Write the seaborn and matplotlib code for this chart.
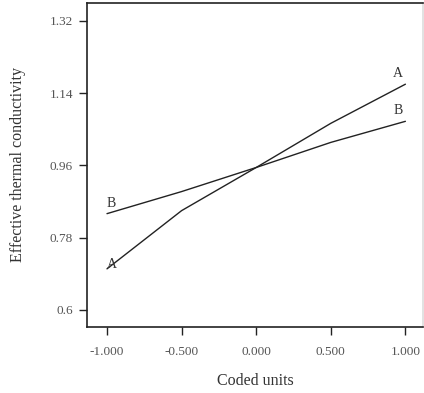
import numpy as np
import pandas as pd
import matplotlib
matplotlib.use("Agg")
import matplotlib.pyplot as plt
import seaborn as sns

# Perturbation responses of the two factors in coded units
coded = [-1.0, -0.5, 0.0, 0.5, 1.0]
factor_a = [0.7025, 0.8475, 0.955, 1.065, 1.1625]
factor_b = [0.840, 0.895, 0.955, 1.0175, 1.070]
factor_names = ["A", "B"]

x_ticks = [-1.0, -0.5, 0.0, 0.5, 1.0]
x_ticklabels = ["-1.000", "-0.500", "0.000", "0.500", "1.000"]
y_ticks = [0.6, 0.78, 0.96, 1.14, 1.32]
y_ticklabels = ["0.6", "0.78", "0.96", "1.14", "1.32"]

df = pd.DataFrame({
    "coded": coded * 2,
    "response": factor_a + factor_b,
    "factor": [factor_names[0]] * len(coded) + [factor_names[1]] * len(coded),
})

sns.set_style("ticks")
plt.rcParams["font.family"] = ["Liberation Serif", "DejaVu Serif"]

fig = plt.figure(figsize=(4.24, 3.93), dpi=100)
ax = fig.add_axes([87 / 424, 66 / 393, 336 / 424, 324 / 393])

sns.lineplot(data=df, x="coded", y="response", hue="factor",
             palette={"A": "#222222", "B": "#222222"}, linewidth=1.0,
             legend=False, ax=ax)

ax.set_xlim(-1.134, 1.118)
ax.set_ylim(0.5576, 1.3648)
ax.set_xticks(x_ticks)
ax.set_xticklabels(x_ticklabels)
ax.set_yticks(y_ticks)
ax.set_yticklabels(y_ticklabels)
ax.tick_params(axis="both", direction="out", length=6, width=1.0,
               color="#222222", labelsize=9.5, labelcolor="#555555")
ax.tick_params(axis="x", pad=7.5)
ax.tick_params(axis="y", pad=4)

for side in ["left", "bottom", "top", "right"]:
    ax.spines[side].set_visible(True)
    ax.spines[side].set_color("#222222")
    ax.spines[side].set_linewidth(1.2)
ax.spines["right"].set_color("#dddddd")

ax.set_xlabel("Coded units", fontsize=11.5, color="#333333", labelpad=11)
ax.set_ylabel("Effective thermal conductivity", fontsize=11.5, color="#333333",
              labelpad=17)

# Factor labels at both ends of each trace
label_kw = dict(fontsize=10, color="#333333", ha="center")
ax.text(coded[0] + 0.03, factor_a[0] - 0.005, factor_names[0], va="bottom", **label_kw)
ax.text(coded[0] + 0.03, factor_b[0] + 0.008, factor_names[1], va="bottom", **label_kw)
ax.text(coded[-1] - 0.05, factor_a[-1] + 0.01, factor_names[0], va="bottom", **label_kw)
ax.text(coded[-1] - 0.05, factor_b[-1] + 0.01, factor_names[1], va="bottom", **label_kw)

fig.savefig("out.png", dpi=100)
